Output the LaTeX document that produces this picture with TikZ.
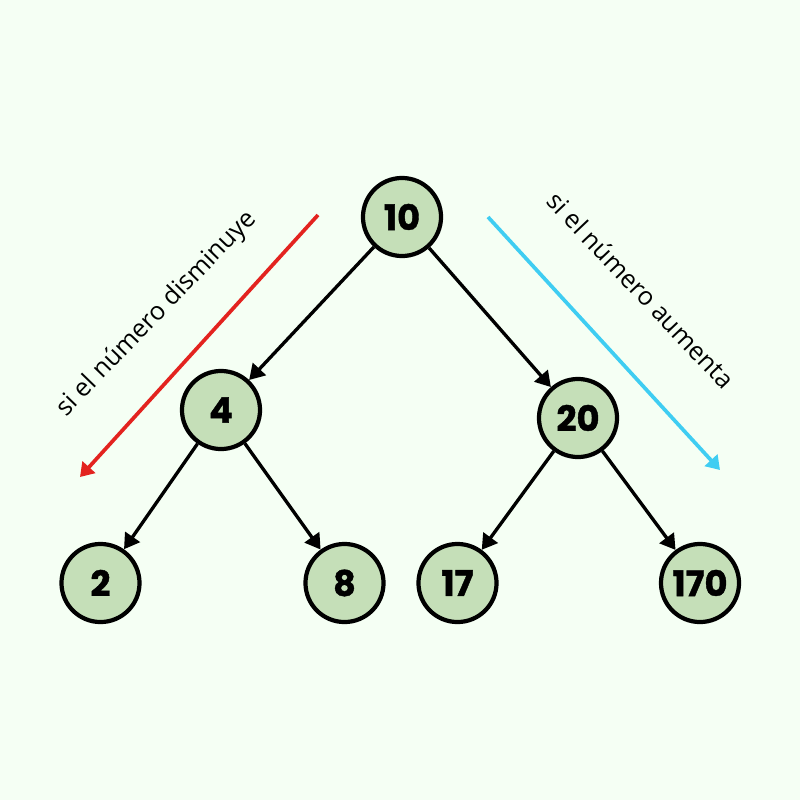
\documentclass[tikz,border=0pt]{standalone}
\usepackage{fontspec}
\setmainfont{Open Sans}
\newfontfamily\numfont{Poppins}[BoldFeatures={FakeBold=1.2}]
\usetikzlibrary{arrows.meta}
\definecolor{bg}{HTML}{F5FFF4}
\definecolor{nodefill}{HTML}{C5DFB8}
\definecolor{redarrow}{HTML}{E3231F}
\definecolor{cyanarrow}{HTML}{3FCDF2}
\tikzset{
  treenode/.style={circle, draw=black, line width=1.2pt, fill=nodefill,
    minimum size=0.78cm, inner sep=0pt, font=\numfont\bfseries\fontsize{10}{12}\selectfont},
  edge/.style={line width=0.95pt, -{Triangle[length=4.3pt,width=5pt]}},
  guide/.style={line width=1.05pt, -{Triangle[length=3.8pt,width=4.8pt]}},
  guidelabel/.style={font=\fontsize{7.2}{8}\selectfont, inner sep=0pt}
}
\begin{document}
\begin{tikzpicture}[x=0.01cm,y=-0.01cm]
\fill[bg] (0,0) rectangle (800,800);
\useasboundingbox (0,0) rectangle (800,800);
\node[treenode] (n10) at (402,217) {10};
\node[treenode] (n4) at (221,410) {4};
\node[treenode] (n20) at (578,418) {20};
\node[treenode] (n2) at (100.5,583) {2};
\node[treenode] (n8) at (344.5,583) {8};
\node[treenode] (n17) at (457.5,583) {17};
\node[treenode] (n170) at (700,583) {170};
\draw[edge] (n10) -- (n4);
\draw[edge] (n10) -- (n20);
\draw[edge] (n4) -- (n2);
\draw[edge] (n4) -- (n8);
\draw[edge] (n20) -- (n17);
\draw[edge] (n20) -- (n170);
\coordinate (r1) at (318,215);
\coordinate (r2) at (80,477);
\coordinate (c1) at (488,217);
\coordinate (c2) at (720,470);
\draw[guide, redarrow] (r1) -- (r2);
\draw[guide, cyanarrow] (c1) -- (c2);
\node[guidelabel, rotate=46] (ldis) at (157,314) {si el número disminuye};
\node[guidelabel, rotate=-46.5] (laum) at (641,290) {si el número aumenta};
\end{tikzpicture}
\end{document}
